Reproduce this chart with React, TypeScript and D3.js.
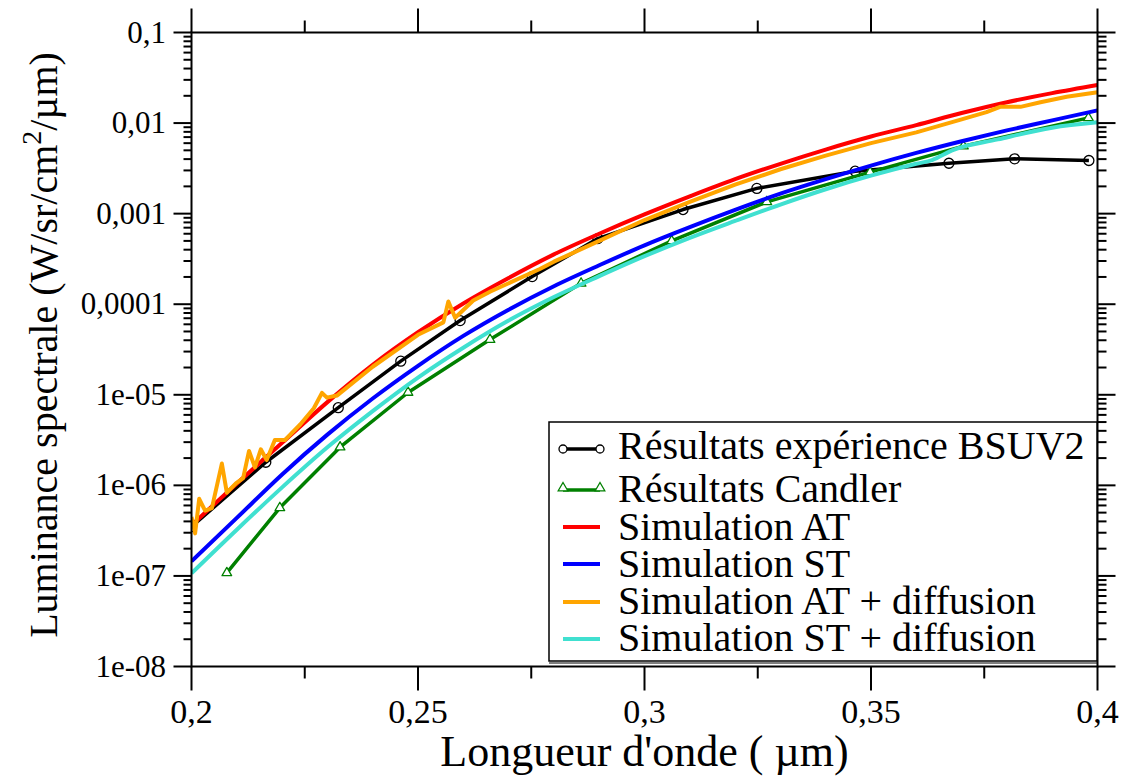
import React from 'react';
import * as d3 from 'd3';

// ---- Data (wavelength in µm, luminance in W/sr/cm²/µm) ----
const bsuvX = [0.2, 0.2164, 0.2324, 0.2462, 0.2593, 0.2752, 0.2897, 0.3085, 0.3248, 0.3465, 0.3672, 0.3817, 0.3981];
const bsuvY = [3.5e-7, 1.8e-6, 7.2e-6, 2.35e-5, 6.6e-5, 2.02e-4, 5.3e-4, 1.11e-3, 1.9e-3, 2.94e-3, 3.6e-3, 4.03e-3, 3.86e-3];

const candlerX = [0.2078, 0.2195, 0.2328, 0.2478, 0.2659, 0.286, 0.306, 0.327, 0.3498, 0.3704, 0.398];
const candlerY = [1.08e-7, 5.65e-7, 2.64e-6, 1.06e-5, 4.07e-5, 1.7e-4, 5.0e-4, 1.35e-3, 2.87e-3, 5.56e-3, 1.14e-2];

const simX = [0.2, 0.21, 0.22, 0.23, 0.24, 0.25, 0.26, 0.27, 0.28, 0.29, 0.3, 0.31, 0.32, 0.33, 0.34, 0.35, 0.36, 0.37, 0.38, 0.39, 0.4];
const simAT = [3.63e-7, 1.05e-6, 2.95e-6, 8.3e-6, 2.14e-5, 4.9e-5, 1.02e-4, 1.95e-4, 3.55e-4, 6.0e-4, 9.8e-4, 1.55e-3, 2.4e-3, 3.55e-3, 5.1e-3, 7.1e-3, 9.5e-3, 1.29e-2, 1.7e-2, 2.14e-2, 2.63e-2];
const simST = [1.45e-7, 4.37e-7, 1.32e-6, 3.63e-6, 9.1e-6, 2.09e-5, 4.47e-5, 8.7e-5, 1.58e-4, 2.69e-4, 4.47e-4, 7.1e-4, 1.1e-3, 1.66e-3, 2.4e-3, 3.39e-3, 4.68e-3, 6.3e-3, 8.3e-3, 1.07e-2, 1.38e-2];

const atDiffX = [0.2, 0.2008, 0.2017, 0.203, 0.2045, 0.2067, 0.2078, 0.2098, 0.2114, 0.2127, 0.214, 0.2153, 0.2166, 0.2184, 0.2206, 0.224, 0.227, 0.2288, 0.2299, 0.2321, 0.24, 0.25, 0.2556, 0.2567, 0.2582, 0.2622, 0.266, 0.2769, 0.28, 0.29, 0.3, 0.31, 0.32, 0.33, 0.34, 0.35, 0.36, 0.37, 0.3755, 0.3785, 0.383, 0.3874, 0.3932, 0.4];
const atDiffY = [4.47e-7, 2.95e-7, 7.1e-7, 5.25e-7, 5.6e-7, 1.74e-6, 8.3e-7, 1.05e-6, 1.2e-6, 2.4e-6, 1.58e-6, 2.5e-6, 1.9e-6, 3.16e-6, 3.16e-6, 4.7e-6, 7.1e-6, 1.05e-5, 9.3e-6, 9.8e-6, 2.04e-5, 4.6e-5, 6.3e-5, 1.07e-4, 7.1e-5, 1.1e-4, 1.38e-4, 2.45e-4, 2.95e-4, 5.0e-4, 8.5e-4, 1.35e-3, 2.09e-3, 3.09e-3, 4.37e-3, 6.0e-3, 7.9e-3, 1.1e-2, 1.32e-2, 1.51e-2, 1.51e-2, 1.7e-2, 1.95e-2, 2.19e-2];

const stDiffX = [0.2, 0.21, 0.22, 0.23, 0.24, 0.25, 0.26, 0.27, 0.28, 0.29, 0.3, 0.31, 0.32, 0.33, 0.34, 0.35, 0.36, 0.3635, 0.3679, 0.378, 0.39, 0.4];
const stDiffY = [1.07e-7, 3.24e-7, 9.5e-7, 2.63e-6, 6.6e-6, 1.55e-5, 3.31e-5, 6.6e-5, 1.2e-4, 2.04e-4, 3.39e-4, 5.4e-4, 8.3e-4, 1.26e-3, 1.86e-3, 2.63e-3, 3.55e-3, 3.9e-3, 5.0e-3, 6.6e-3, 8.9e-3, 1.02e-2];

const xMajorTicks = [0.2, 0.25, 0.3, 0.35, 0.4];
const xTickLabels = ['0,2', '0,25', '0,3', '0,35', '0,4'];
const xMinorTicks = [0.225, 0.275, 0.325, 0.375];
const yMajorTicks = [1e-8, 1e-7, 1e-6, 1e-5, 1e-4, 1e-3, 1e-2, 1e-1];
const yTickLabels = ['1e-08', '1e-07', '1e-06', '1e-05', '0,0001', '0,001', '0,01', '0,1'];
const yMinorMultipliers = [2, 3, 4, 5, 6, 7, 8, 9];

const legendLabels = [
  'Résultats expérience BSUV2',
  'Résultats Candler',
  'Simulation AT',
  'Simulation ST',
  'Simulation AT + diffusion',
  'Simulation ST + diffusion',
];

const FONT = "'Liberation Serif', 'DejaVu Serif', serif";

export default function App() {
  const left = 191.5, right = 1097.5, top = 32.5, bottom = 666.5;
  const x = d3.scaleLinear().domain([0.2, 0.4]).range([left, right]);
  const y = d3.scaleLog().domain([1e-8, 0.1]).range([bottom, top]);

  const zip = (xs: number[], ys: number[]) => xs.map((v, i) => [v, ys[i]] as [number, number]);
  const lin = d3.line<[number, number]>().x(d => x(d[0])).y(d => y(d[1]));
  const smooth = d3.line<[number, number]>().x(d => x(d[0])).y(d => y(d[1])).curve(d3.curveMonotoneX);

  const yMinor: number[] = [];
  for (let k = 0; k < yMajorTicks.length - 1; k++) {
    for (const m of yMinorMultipliers) yMinor.push(yMajorTicks[k] * m);
  }

  const bsuv = zip(bsuvX, bsuvY);
  const candler = zip(candlerX, candlerY);
  const tri = d3.symbol().type(d3.symbolTriangle).size(40)();

  const legendRowY = [449, 490, 527, 564, 602, 639];
  const legendBaseY = [459, 502, 540, 577, 614, 651];
  const lx0 = 563, lx1 = 600, tx = 618;
  const ts = { fontFamily: FONT } as React.CSSProperties;

  return (
    <svg width={1123} height={776} style={{ position: 'absolute', left: 0, top: 0, background: '#fff', fontFamily: FONT }}>
      <defs>
        <clipPath id="plot">
          <rect x={left} y={top} width={right - left} height={bottom - top} />
        </clipPath>
      </defs>
      <rect x={0} y={0} width={1123} height={776} fill="#fff" />

      {/* series */}
      <g clipPath="url(#plot)" fill="none" strokeLinejoin="round">
        <path d={lin(bsuv) || ''} stroke="#000" strokeWidth={3.5} />
        {bsuv.map((d, i) => (
          <circle key={'c' + i} cx={x(d[0])} cy={y(d[1])} r={5} stroke="#000" strokeWidth={1.3} fill="none" />
        ))}
        <path d={lin(candler) || ''} stroke="#008000" strokeWidth={3.5} />
        {candler.map((d, i) => (
          <path key={'t' + i} d={tri || ''} transform={`translate(${x(d[0])},${y(d[1])})`} stroke="#008000" strokeWidth={1.3} fill="#fff" />
        ))}
        <path d={smooth(zip(simX, simAT)) || ''} stroke="#ff0000" strokeWidth={4} />
        <path d={smooth(zip(simX, simST)) || ''} stroke="#0000ff" strokeWidth={4} />
        <path d={lin(zip(atDiffX, atDiffY)) || ''} stroke="#ffa500" strokeWidth={4} />
        <path d={smooth(zip(stDiffX, stDiffY)) || ''} stroke="#40e0d0" strokeWidth={4} />
      </g>

      {/* axes frame */}
      <rect x={left} y={top} width={right - left} height={bottom - top} fill="none" stroke="#000" strokeWidth={2} />

      {/* ticks */}
      <g stroke="#000" strokeWidth={2}>
        {xMajorTicks.map((t, i) => (
          <g key={'xm' + i}>
            <line x1={x(t)} x2={x(t)} y1={bottom} y2={bottom + 24} />
            <line x1={x(t)} x2={x(t)} y1={top} y2={top - 24} />
          </g>
        ))}
        {xMinorTicks.map((t, i) => (
          <g key={'xn' + i}>
            <line x1={x(t)} x2={x(t)} y1={bottom} y2={bottom + 12} />
            <line x1={x(t)} x2={x(t)} y1={top} y2={top - 12} />
          </g>
        ))}
        {yMajorTicks.map((t, i) => (
          <g key={'ym' + i}>
            <line x1={left} x2={left - 18} y1={y(t)} y2={y(t)} />
            <line x1={right} x2={right + 18} y1={y(t)} y2={y(t)} />
          </g>
        ))}
        {yMinor.map((t, i) => (
          <g key={'yn' + i}>
            <line x1={left} x2={left - 8} y1={y(t)} y2={y(t)} />
            <line x1={right} x2={right + 9} y1={y(t)} y2={y(t)} />
          </g>
        ))}
      </g>

      {/* tick labels */}
      {xMajorTicks.map((t, i) => (
        <text key={'xl' + i} x={x(t)} y={723} fontSize={34} textAnchor="middle" fill="#000" style={ts}>{xTickLabels[i]}</text>
      ))}
      {yMajorTicks.map((t, i) => (
        <text key={'yl' + i} x={166} y={y(t) + 10} fontSize={31} textAnchor="end" fill="#000" style={ts}>{yTickLabels[i]}</text>
      ))}

      {/* axis titles */}
      <text x={(left + right) / 2} y={766} fontSize={44} textAnchor="middle" fill="#000" style={ts}>Longueur d'onde ( µm)</text>
      <text transform="translate(57,345) rotate(-90)" fontSize={40} textAnchor="middle" fill="#000" style={ts}>
        Luminance spectrale (W/sr/cm<tspan dy={-16} fontSize={28}>2</tspan><tspan dy={16}>/µm)</tspan>
      </text>

      {/* legend */}
      <rect x={549} y={422} width={548} height={239} fill="#fff" stroke="#000" strokeWidth={1.5} />
      <line x1={549} x2={1097} y1={663} y2={663} stroke="#000" strokeWidth={1} />
      <g>
        <line x1={lx0} x2={lx1} y1={legendRowY[0]} y2={legendRowY[0]} stroke="#000" strokeWidth={3.5} />
        <circle cx={lx0} cy={legendRowY[0]} r={4} fill="#fff" stroke="#000" strokeWidth={1.3} />
        <circle cx={lx1} cy={legendRowY[0]} r={4} fill="#fff" stroke="#000" strokeWidth={1.3} />
        <line x1={lx0} x2={lx1} y1={legendRowY[1]} y2={legendRowY[1]} stroke="#008000" strokeWidth={3.5} />
        <path d={tri || ''} transform={`translate(${lx0},${legendRowY[1] - 2})`} fill="#fff" stroke="#008000" strokeWidth={1.3} />
        <path d={tri || ''} transform={`translate(${lx1},${legendRowY[1] - 2})`} fill="#fff" stroke="#008000" strokeWidth={1.3} />
        {['#ff0000', '#0000ff', '#ffa500', '#40e0d0'].map((c, i) => (
          <line key={'ll' + i} x1={lx0} x2={lx1} y1={legendRowY[i + 2]} y2={legendRowY[i + 2]} stroke={c} strokeWidth={4} />
        ))}
        {legendLabels.map((l, i) => (
          <text key={'lt' + i} x={tx} y={legendBaseY[i]} fontSize={40} fill="#000" style={ts}>{l}</text>
        ))}
      </g>
    </svg>
  );
}
